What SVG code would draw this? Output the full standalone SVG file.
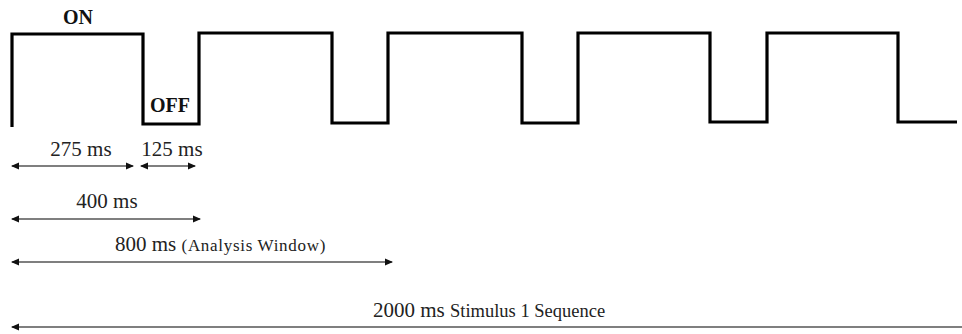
<svg xmlns="http://www.w3.org/2000/svg" width="962" height="334" viewBox="0 0 962 334">
<style>
.wave{fill:none;stroke:#000;stroke-width:3.2;stroke-linejoin:miter;stroke-linecap:butt}
.dim{fill:none;stroke:#555;stroke-width:1.4}
.lbl{font-family:"Liberation Serif",serif;fill:#222}
.b{font-weight:bold;font-size:20px;fill:#111}
.m{font-size:21px}
.s{font-size:17px;letter-spacing:0.7px}
.sc{font-size:18.5px}
</style>
<defs>
<marker id="ah" viewBox="0 0 8 8" refX="7" refY="4" markerWidth="8" markerHeight="8" markerUnits="userSpaceOnUse" orient="auto-start-reverse">
<path d="M0,0.5 L8,4 L0,7.5 Z" fill="#111"/>
</marker>
</defs>
<g id="waveform">
<path class="wave" d="M12,127 V34 H143 V124 H199 V33 H332 V123 H388 V33 H522 V123 H578 V33 H710 V122 H767 V33 H898 V122 H957"/>
</g>
<g id="labels">
<text class="lbl b" x="78" y="24" text-anchor="middle">ON</text>
<text class="lbl b" x="170" y="112" text-anchor="middle">OFF</text>
</g>
<g id="connectors">
<line class="dim" x1="12" y1="166" x2="133" y2="166" marker-start="url(#ah)" marker-end="url(#ah)"/>
<line class="dim" x1="141" y1="166" x2="195" y2="166" marker-start="url(#ah)" marker-end="url(#ah)"/>
<line class="dim" x1="12" y1="219" x2="200" y2="219" marker-start="url(#ah)" marker-end="url(#ah)"/>
<line class="dim" x1="12" y1="262" x2="392" y2="262" marker-start="url(#ah)" marker-end="url(#ah)"/>
<line class="dim" x1="12" y1="327" x2="962" y2="327" marker-start="url(#ah)"/>
</g>
<g id="dim-labels">
<text class="lbl m" x="81" y="156" text-anchor="middle">275 ms</text>
<text class="lbl m" x="172" y="156" text-anchor="middle">125 ms</text>
<text class="lbl m" x="107" y="208" text-anchor="middle">400 ms</text>
<text class="lbl" x="115" y="251"><tspan class="m">800 ms </tspan><tspan class="s">(Analysis Window)</tspan></text>
<text class="lbl" x="373" y="317"><tspan class="m">2000 ms </tspan><tspan class="sc">Stimulus 1 Sequence</tspan></text>
</g>
</svg>
